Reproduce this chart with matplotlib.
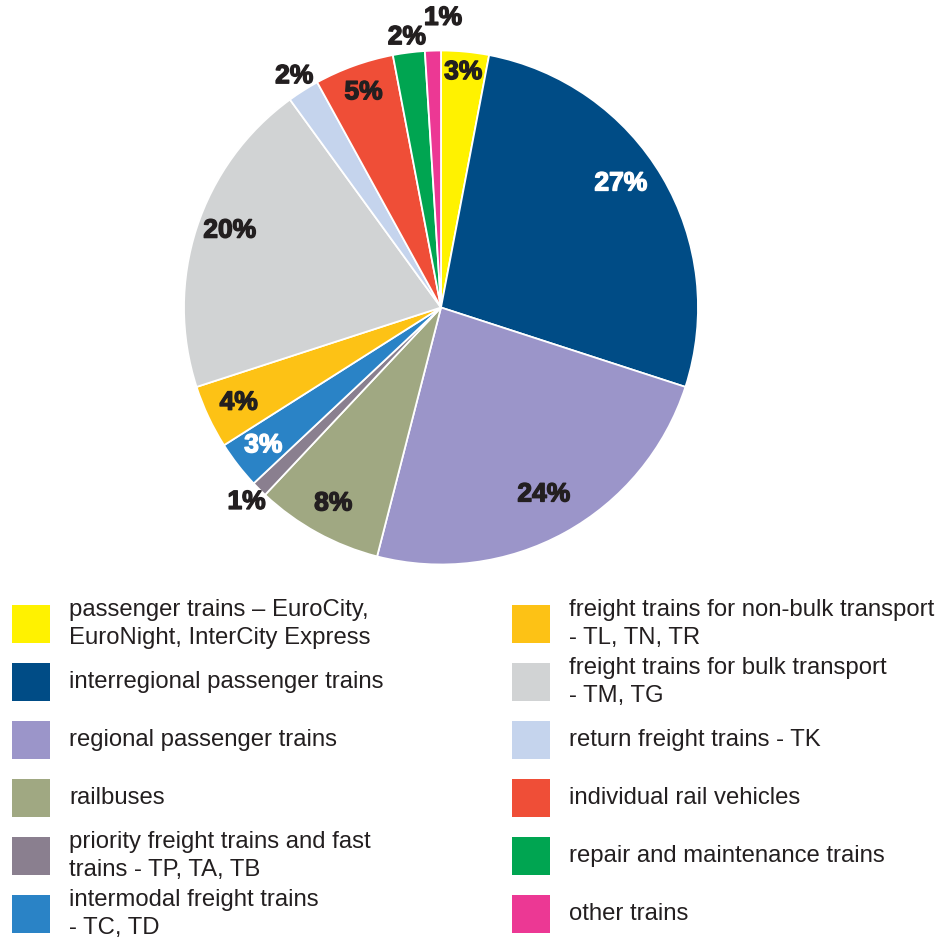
import numpy as np
import matplotlib
matplotlib.use("Agg")
import matplotlib.pyplot as plt
from matplotlib.patches import Rectangle
import matplotlib.patheffects as pe

categories = [
    "passenger trains – EuroCity,\nEuroNight, InterCity Express",
    "interregional passenger trains",
    "regional passenger trains",
    "railbuses",
    "priority freight trains and fast\ntrains - TP, TA, TB",
    "intermodal freight trains\n- TC, TD",
    "freight trains for non-bulk transport\n- TL, TN, TR",
    "freight trains for bulk transport\n- TM, TG",
    "return freight trains - TK",
    "individual rail vehicles",
    "repair and maintenance trains",
    "other trains",
]
shares = [3, 27, 24, 8, 1, 3, 4, 20, 2, 5, 2, 1]
pct_labels = ["3%", "27%", "24%", "8%", "1%", "3%", "4%", "20%", "2%", "5%", "2%", "1%"]

colors = ["#FFF200", "#004C86", "#9B95C9", "#A0A882", "#8A7F8F", "#2A83C6",
          "#FDC215", "#D1D3D4", "#C5D4ED", "#EF4E37", "#00A551", "#EC3894"]
label_colors = ["#231F20", "white", "#231F20", "#231F20", "#231F20", "white",
                "#231F20", "#231F20", "#231F20", "#231F20", "#231F20", "#231F20"]
label_radius = [0.92, 0.85, 0.83, 0.87, 1.07, 0.875, 0.87, 0.875, 1.066, 0.89, 1.06, 1.127]
label_shift = [0, -4, 0, 0, 0, 0, 0, 2, 0, 0, 0, 2.2]  # degrees

plt.rcParams["font.family"] = ["Liberation Sans", "DejaVu Sans"]
W, H = 949, 943
fig = plt.figure(figsize=(W / 100, H / 100), dpi=100)

cx, cy, r = 441, 307.5, 257
ax = fig.add_axes([(cx - r) / W, (H - cy - r) / H, 2 * r / W, 2 * r / H])
wedges, _ = ax.pie(shares, colors=colors, startangle=90, counterclock=False,
                   radius=1.0, wedgeprops=dict(edgecolor="white", linewidth=1.3))
ax.set_xlim(-1, 1)
ax.set_ylim(-1, 1)
ax.set_aspect("equal")
ax.axis("off")

total = sum(shares)
cum = np.cumsum([0] + shares)
for i, lab in enumerate(pct_labels):
    mid = (cum[i] + cum[i + 1]) / 2 / total * 2 * np.pi + np.deg2rad(label_shift[i])
    rr = label_radius[i]
    ax.text(rr * np.sin(mid), rr * np.cos(mid), lab, ha="center", va="center",
            fontsize=19, fontweight="bold", color=label_colors[i], clip_on=False,
            path_effects=[pe.withStroke(linewidth=1.0, foreground=label_colors[i])])

# legend
sq = 38
row_top = [605, 663, 721, 779, 837, 895]
for i, (cat, col) in enumerate(zip(categories, colors)):
    c = i // 6
    rw = i % 6
    x0 = 12 if c == 0 else 512
    tx = 69 if c == 0 else 569
    top = row_top[rw]
    fig.patches.append(Rectangle((x0 / W, (H - top - sq) / H), sq / W, sq / H,
                                 transform=fig.transFigure, facecolor=col,
                                 edgecolor="none"))
    fig.text(tx / W, (H - top - sq / 2) / H, cat, ha="left", va="center",
             fontsize=17.2, color="#231F20", linespacing=1.32)

fig.savefig("out.png", dpi=100, facecolor="white")
